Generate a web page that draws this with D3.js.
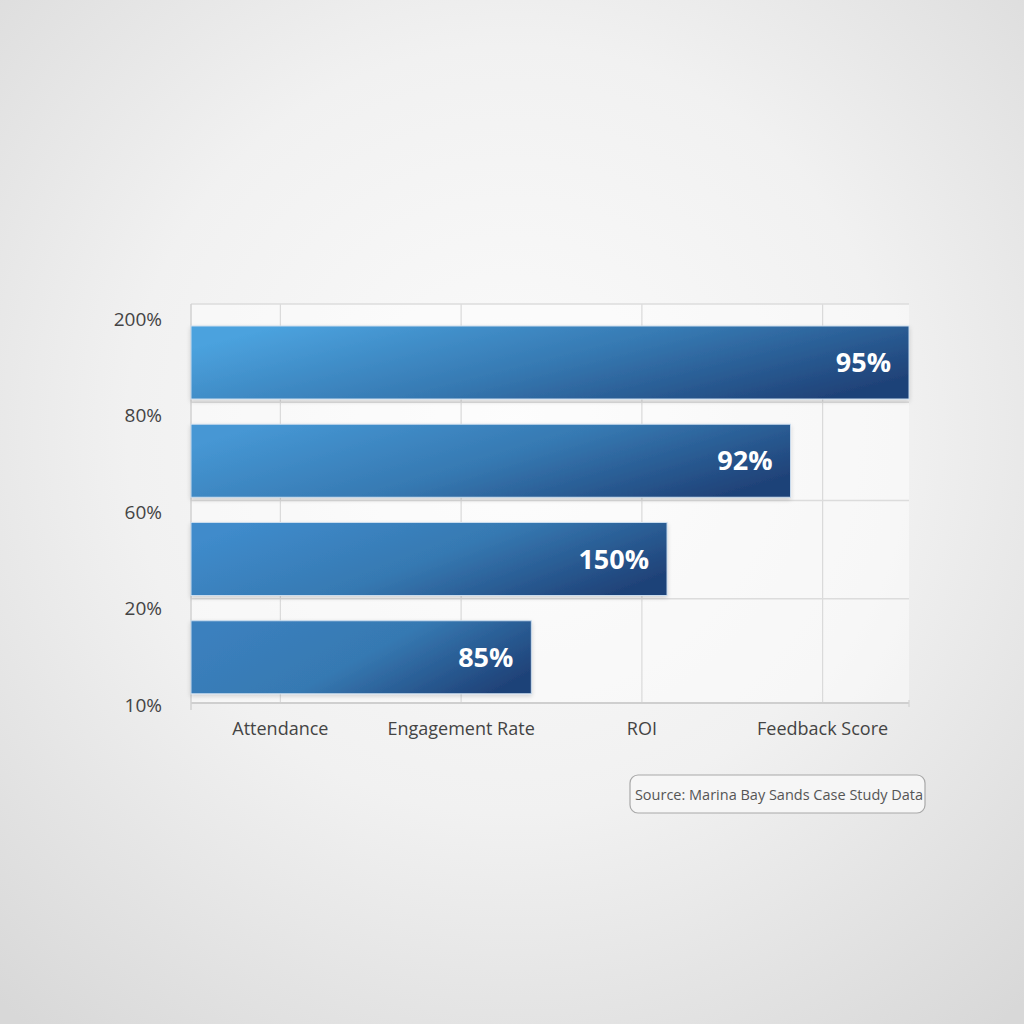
<!DOCTYPE html>
<html>
<head>
<meta charset="utf-8">
<script src="https://cdn.jsdelivr.net/npm/d3@7/dist/d3.min.js"></script>
<style>
  html, body { margin: 0; padding: 0; }
  body { width: 1024px; height: 1024px; overflow: hidden; }
  svg { display: block; font-family: "Open Sans", "Noto Sans", sans-serif; }
</style>
</head>
<body>
<div id="chart"></div>
<script>
// Rows of the chart (top to bottom)
const rows = ['r1', 'r2', 'r3', 'r4'];
// Bar length as share of the plot width (%)
const barLength = [100, 83.5, 66.3, 47.4];
// Labels printed inside the bars
const barLabels = ['95%', '92%', '150%', '85%'];
// Tick labels
const yTickLabels = ['200%', '80%', '60%', '20%', '10%'];
const xCategories = ['Attendance', 'Engagement Rate', 'ROI', 'Feedback Score'];
const sourceText = 'Source: Marina Bay Sands Case Study Data';

const W = 1024, H = 1024;
const plot = { left: 191, right: 909, top: 304, bottom: 703 };

const svg = d3.select('#chart').append('svg')
  .attr('width', W)
  .attr('height', H);

const defs = svg.append('defs');

// Background radial gradient
const bg = defs.append('radialGradient')
  .attr('id', 'bg')
  .attr('cx', '50%').attr('cy', '42%').attr('r', '75%');
bg.append('stop').attr('offset', '0%').attr('stop-color', '#fbfbfb');
bg.append('stop').attr('offset', '50%').attr('stop-color', '#f1f1f1');
bg.append('stop').attr('offset', '100%').attr('stop-color', '#d8d8d8');

svg.append('rect')
  .attr('width', W).attr('height', H)
  .attr('fill', 'url(#bg)');

// Soft shadow for bars
const shadow = defs.append('filter')
  .attr('id', 'shadow')
  .attr('x', '-5%').attr('y', '-20%').attr('width', '110%').attr('height', '150%');
shadow.append('feDropShadow')
  .attr('dx', 0).attr('dy', 2).attr('stdDeviation', 2)
  .attr('flood-color', '#000').attr('flood-opacity', 0.16);

// Scales
const x = d3.scaleLinear().domain([0, 100]).range([plot.left, plot.right]);
const xCat = d3.scalePoint().domain(xCategories).range([190, 913]).padding(0.5);
const yBand = d3.scaleBand().domain(rows).range([plot.top, 697]);
const yTicks = d3.scalePoint().domain(yTickLabels).range([319, 705]);

const g = svg.append('g');

// Plot background
g.append('rect')
  .attr('x', plot.left).attr('y', plot.top)
  .attr('width', plot.right - plot.left)
  .attr('height', plot.bottom - plot.top)
  .attr('fill', '#ffffff').attr('fill-opacity', 0.45);

// Vertical gridlines at category positions
g.append('g')
  .selectAll('line')
  .data(xCategories)
  .join('line')
  .attr('x1', (d) => xCat(d)).attr('x2', (d) => xCat(d))
  .attr('y1', plot.top).attr('y2', plot.bottom)
  .attr('stroke', '#dadada').attr('stroke-width', 1.2);

// Horizontal gridlines at band boundaries
const hLines = rows.map((r) => yBand(r)).concat([plot.bottom]);
g.append('g')
  .selectAll('line')
  .data(hLines)
  .join('line')
  .attr('x1', plot.left).attr('x2', plot.right)
  .attr('y1', (d) => d).attr('y2', (d) => d)
  .attr('stroke', (d, i) => (i === hLines.length - 1 ? '#cfcfcf' : '#dcdcdc'))
  .attr('stroke-width', (d, i) => (i === hLines.length - 1 ? 2 : 1.5));

// Axis lines
g.append('line')
  .attr('x1', plot.left).attr('x2', plot.left)
  .attr('y1', plot.top).attr('y2', plot.bottom + 7)
  .attr('stroke', '#d2d2d2').attr('stroke-width', 1.5);
g.append('line')
  .attr('x1', plot.right).attr('x2', plot.right)
  .attr('y1', plot.bottom - 3).attr('y2', plot.bottom + 4)
  .attr('stroke', '#d2d2d2').attr('stroke-width', 1.2);

// Bar gradients
const startColors = ['#4ba2de', '#4697d4', '#3f8bcb', '#3b80be'];
const grads = defs.selectAll('linearGradient.bar')
  .data(rows)
  .join('linearGradient')
  .attr('class', 'bar')
  .attr('id', (d, i) => `barGrad${i}`)
  .attr('x1', '0%').attr('x2', '100%').attr('y1', '30%').attr('y2', '70%');
grads.append('stop').attr('offset', '0%').attr('stop-color', (d, i) => startColors[i]);
grads.append('stop').attr('offset', '50%').attr('stop-color', '#3679b2');
grads.append('stop').attr('offset', '100%').attr('stop-color', '#1f4278');

// Bars
const barTop = 22, barH = 73;
g.append('g')
  .selectAll('rect')
  .data(rows)
  .join('rect')
  .attr('x', x(0))
  .attr('y', (d) => yBand(d) + barTop)
  .attr('width', (d, i) => x(barLength[i]) - x(0))
  .attr('height', barH)
  .attr('fill', (d, i) => `url(#barGrad${i})`)
  .attr('stroke', '#c9dcee').attr('stroke-width', 1)
  .attr('filter', 'url(#shadow)');

// Bar value labels
g.append('g')
  .selectAll('text')
  .data(rows)
  .join('text')
  .attr('x', (d, i) => x(barLength[i]) - 18)
  .attr('y', (d) => yBand(d) + barTop + barH / 2)
  .attr('dy', '0.36em')
  .attr('text-anchor', 'end')
  .attr('fill', '#ffffff')
  .style('font-size', '27px')
  .style('font-weight', 700)
  .text((d, i) => barLabels[i]);

// Y tick labels
g.append('g')
  .selectAll('text')
  .data(yTickLabels)
  .join('text')
  .attr('x', 162)
  .attr('y', (d) => yTicks(d))
  .attr('dy', '0.36em')
  .attr('text-anchor', 'end')
  .attr('fill', '#444')
  .style('font-size', '19px')
  .text((d) => d);

// X category labels
g.append('g')
  .selectAll('text')
  .data(xCategories)
  .join('text')
  .attr('x', (d) => xCat(d))
  .attr('y', 729)
  .attr('dy', '0.36em')
  .attr('text-anchor', 'middle')
  .attr('fill', '#444')
  .style('font-size', '18px')
  .text((d) => d);

// Source box
const src = svg.append('g');
src.append('rect')
  .attr('x', 630).attr('y', 775)
  .attr('width', 295).attr('height', 38)
  .attr('rx', 8)
  .attr('fill', '#f6f6f6')
  .attr('stroke', '#a8a8a8').attr('stroke-width', 1.2);
src.append('text')
  .attr('x', 779).attr('y', 795)
  .attr('dy', '0.36em')
  .attr('text-anchor', 'middle')
  .attr('fill', '#555')
  .style('font-size', '14.5px')
  .text(sourceText);
</script>
</body>
</html>
